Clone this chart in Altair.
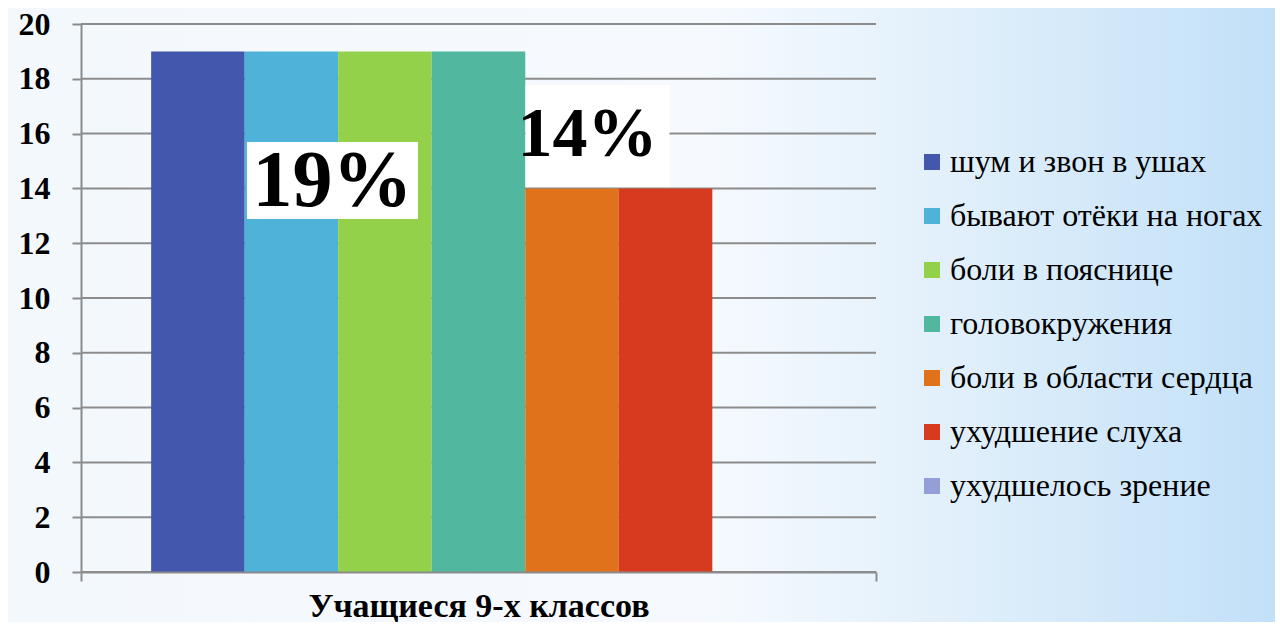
import altair as alt
import pandas as pd

group = "Учащиеся 9-х классов"
series = [
    "шум и звон в ушах",
    "бывают отёки на ногах",
    "боли в пояснице",
    "головокружения",
    "боли в области сердца",
    "ухудшение слуха",
    "ухудшелось зрение",
]
values = [19, 19, 19, 19, 14, 14, 0]
colors = ["#4357ad", "#4fb3d9", "#93d14b", "#51b79e", "#e0721c", "#d63a1f", "#939fd6"]
y_ticks = [0, 2, 4, 6, 8, 10, 12, 14, 16, 18, 20]

label_texts = ["19%", "14%"]
label_series = ["бывают отёки на ногах", "боли в области сердца"]
label_values = [19, 14]

W, H = 795, 548
PL, PT = 73, 16
TOTAL_W, TOTAL_H = 1267, 614
PR = TOTAL_W - PL - W
PB = TOTAL_H - PT - H

GRAY = "#8c8c8c"
SERIF = "Liberation Serif"

bars_df = pd.DataFrame({"group": [group] * len(series), "series": series, "value": values})
grid_df = pd.DataFrame({"v": y_ticks})
bg_df = pd.DataFrame({"a": [0]})

x_enc = alt.X("group:N", scale=alt.Scale(paddingInner=0, paddingOuter=0),
              axis=alt.Axis(title=None, labelFont=SERIF, labelFontSize=34, labelFontWeight="bold",
                            labelColor="black", labelPadding=8, labelLimit=800,
                            tickBand="extent", tickSize=9,
                            tickWidth=2, tickColor=GRAY, domainColor=GRAY, domainWidth=2,
                            grid=False, labelAngle=0, zindex=1))
xo_enc = alt.XOffset("series:N", scale=alt.Scale(domain=series, paddingOuter=0.75, paddingInner=0))
y_scale = alt.Scale(domain=[0, 20], nice=False)

background = alt.Chart(bg_df).mark_rect(
    fill=alt.Gradient(
        gradient="linear",
        stops=[
            alt.GradientStop(offset=0, color="#f3f8fd"),
            alt.GradientStop(offset=0.55, color="#f6faff"),
            alt.GradientStop(offset=0.72, color="#e4f1fb"),
            alt.GradientStop(offset=1, color="#c2e0f8"),
        ],
        x1=0, x2=1, y1=0, y2=0,
    )
).encode(
    x=alt.value(-PL), x2=alt.value(W + PR), y=alt.value(-PT), y2=alt.value(H + PB)
)

grid = alt.Chart(grid_df).mark_rule(color=GRAY, strokeWidth=2).encode(
    y=alt.Y("v:Q", scale=y_scale),
    x=alt.value(0), x2=alt.value(W),
)

bars = alt.Chart(bars_df).mark_bar(opacity=1).encode(
    x=x_enc,
    xOffset=xo_enc,
    y=alt.Y("value:Q", scale=y_scale,
            axis=alt.Axis(title=None, values=y_ticks, labelFont=SERIF, labelFontSize=32,
                          labelFontWeight="bold", labelColor="black", labelPadding=22,
                          tickSize=9, tickWidth=2, tickColor=GRAY, domainColor=GRAY,
                          domainWidth=2, grid=False, zindex=1)),
    color=alt.Color("series:N", scale=alt.Scale(domain=series, range=colors),
                    legend=alt.Legend(title=None, orient="none", legendX=835, legendY=122,
                                      padding=0, symbolType="square", symbolSize=256,
                                      symbolStrokeWidth=0, symbolOpacity=1,
                                      labelFont=SERIF, labelFontSize=32, labelColor="black",
                                      labelOffset=2, rowPadding=22, labelLimit=500)),
)


def label_layer(i, box_path, dx, dy, size):
    df = pd.DataFrame({"group": [group], "series": [label_series[i]],
                       "value": [label_values[i]], "label": [label_texts[i]]})
    base = alt.Chart(df).encode(x=alt.X("group:N"), xOffset=alt.XOffset("series:N"),
                                y=alt.Y("value:Q", scale=y_scale))
    box = base.mark_point(shape=box_path, size=4, filled=True, fill="white",
                          opacity=1, strokeWidth=0)
    txt = base.mark_text(font=SERIF, fontSize=size, fontWeight="bold", color="black",
                         align="center", baseline="middle", dx=dx, dy=dy).encode(text="label:N")
    return box + txt


lab19 = label_layer(0, "M-44.5,90.6L126.5,90.6L126.5,167.6L-44.5,167.6Z", 41, 131, 80)
lab14 = label_layer(1, "M-46.5,-103.4L97.5,-103.4L97.5,-1.4L-46.5,-1.4Z", 15.5, -53, 70)

chart = alt.layer(background, grid, bars, lab19, lab14).properties(
    width=W, height=H,
    autosize=alt.AutoSizeParams(type="none"),
    padding={"left": PL, "top": PT, "right": PR, "bottom": PB},
).configure_view(stroke=None).configure(
    background="#f4f9fd", font=SERIF
).configure_axis(labelFont=SERIF).configure_legend(labelFont=SERIF)

chart.save("out.html", embed_options={"renderer": "svg", "actions": False})
